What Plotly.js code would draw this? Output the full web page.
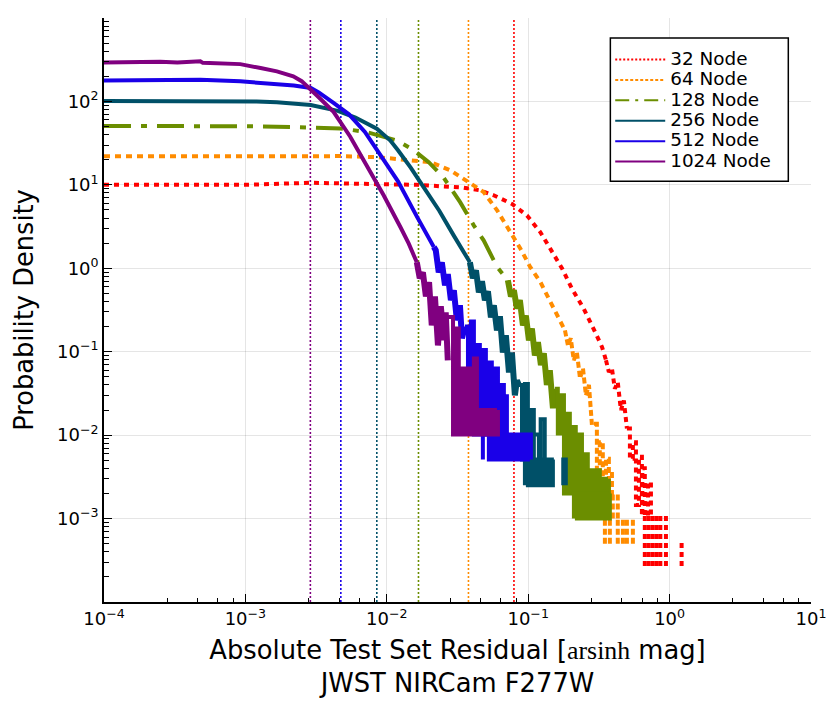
<!DOCTYPE html>
<html>
<head>
<meta charset="utf-8">
<script src="https://cdn.plot.ly/plotly-3.0.1.min.js"></script>
<style>body { margin: 0; background: #fff; }</style>
</head>
<body>
<div id="graph"></div>
<script>
const names = ["32 Node", "64 Node", "128 Node", "256 Node", "512 Node", "1024 Node"];
const colors = ["#ff0000", "#ff8c00", "#6b8e00", "#005068", "#1a00e8", "#800080"];
const curveDash = ["5px,5px", "6px,5px", "27px,10px,6px,10px", "solid", "solid", "solid"];
const tailDash = ["5px,4px", "6px,3px", "solid", "solid", "solid", "solid"];
const midWidth = [4, 4, 6, 6, 6, 6];
const legendDash = ["2px,2px", "3px,2px", "14px,6px,3px,6px", "solid", "solid", "solid"];
const medians = [0.0793, 0.0378, 0.01675, 0.0085, 0.00473, 0.00288];

const xTickVals = [1e-4, 1e-3, 1e-2, 1e-1, 1, 10];
const xTickText = ["10<sup>\u22124</sup>", "10<sup>\u22123</sup>", "10<sup>\u22122</sup>", "10<sup>\u22121</sup>", "10<sup>0</sup>", "10<sup>1</sup>"];
const yTickVals = [1e-3, 1e-2, 1e-1, 1, 10, 100];
const yTickText = ["10<sup>\u22123</sup>", "10<sup>\u22122</sup>", "10<sup>\u22121</sup>", "10<sup>0</sup>", "10<sup>1</sup>", "10<sup>2</sup>"];
const xMinorMant = [2.8, 4.6, 6.4, 8.2];
const yMinorMant = [2, 3, 4, 5, 6, 7, 8, 9];
const xDecades = [1e-4, 1e-3, 1e-2, 1e-1, 1];
const yDecades = [1e-4, 1e-3, 1e-2, 1e-1, 1, 10, 100];

// smooth upper part of every curve
const head32X = [1e-4, 3e-4, 1e-3, 2.9e-3, 4.7e-3, 8.5e-3, 0.0164, 0.0267, 0.034, 0.0456, 0.057, 0.0769, 0.098, 0.122, 0.148, 0.174, 0.204, 0.247, 0.29, 0.333, 0.355];
const head32Y = [10, 10, 10, 10.6, 10.3, 10.2, 10, 9.66, 9.3, 8.6, 7.5, 5.9, 4.3, 2.7, 1.56, 0.99, 0.57, 0.327, 0.188, 0.1135, 0.079];
const head64X = [1e-4, 3e-4, 1e-3, 2.9e-3, 4.7e-3, 8.5e-3, 0.0147, 0.0204, 0.0282, 0.038, 0.0484, 0.0603, 0.0728, 0.0881, 0.1035, 0.122, 0.14, 0.16, 0.182];
const head64Y = [22, 22.1, 22.1, 22.1, 22.1, 21.5, 20, 18.7, 14.9, 10.8, 8.2, 4.94, 2.98, 1.72, 1.03, 0.684, 0.43, 0.27, 0.18];
const head128X = [1e-4, 3e-4, 1e-3, 2.2e-3, 4.7e-3, 7.2e-3, 0.0118, 0.0155, 0.0198, 0.0251, 0.033, 0.0412, 0.0484, 0.0604, 0.0718];
const head128Y = [50.7, 50.7, 50.5, 49.3, 47.5, 43, 34, 26, 18.7, 12.4, 6.2, 3.27, 2.16, 1.03, 0.72];
const head256X = [1e-4, 3e-4, 9e-4, 1.2e-3, 1.67e-3, 2.2e-3, 2.9e-3, 4.5e-3, 6e-3, 8.5e-3, 0.0106, 0.012, 0.0148, 0.0182, 0.0235, 0.0297, 0.0387];
const head256Y = [101, 101, 102, 100, 98, 95, 90.6, 77, 64, 47, 34, 26, 16, 9.4, 4.9, 2.48, 1.18];
const head512X = [1e-4, 2.5e-4, 4.8e-4, 9.2e-4, 1.67e-3, 2.2e-3, 2.9e-3, 3.3e-3, 4.2e-3, 5.4e-3, 7e-3, 9.2e-3, 0.012, 0.0164, 0.0215];
const head512Y = [178, 180, 182, 174, 160, 155, 145, 128, 96, 70, 43, 21, 11, 4.1, 1.8];
const head1024X = [1e-4, 1.5e-4, 2.5e-4, 3.3e-4, 4.3e-4, 4.8e-4, 5e-4, 7e-4, 9.2e-4, 1.28e-3, 1.67e-3, 2.18e-3, 2.5e-3, 3.3e-3, 4.2e-3, 5.5e-3, 7.5e-3, 9.5e-3, 0.0125, 0.0143, 0.0163];
const head1024Y = [292, 295, 298, 292, 296, 303, 290, 288, 280, 251, 229, 200, 175, 112, 75, 38, 15.5, 7.5, 3.1, 1.97, 1.18];

// middle part, the counts start to get noisy
const mid32X = [0.355, 0.372, 0.391, 0.41, 0.43, 0.4525, 0.475, 0.499];
const mid32Y = [0.079, 0.057, 0.063, 0.036, 0.043, 0.02, 0.026, 0.012];
const mid64X = [0.182, 0.191, 0.2, 0.21, 0.221, 0.2325, 0.244, 0.256, 0.269, 0.2825, 0.2917];
const mid64Y = [0.18, 0.119, 0.145, 0.079, 0.098, 0.048, 0.063, 0.03, 0.04, 0.013, 0.0137];
const mid128X = [0.0718, 0.0755, 0.0792, 0.0832, 0.0873, 0.0918, 0.0963, 0.1012, 0.1062, 0.1115, 0.1172, 0.123, 0.129, 0.1355, 0.1422, 0.1496, 0.1545];
const mid128Y = [0.72, 0.46, 0.545, 0.33, 0.414, 0.207, 0.27, 0.137, 0.19, 0.09, 0.13, 0.069, 0.096, 0.04, 0.06, 0.021, 0.036];
const mid256X = [0.0387, 0.0406, 0.0427, 0.0448, 0.0471, 0.0494, 0.0519, 0.0545, 0.0572, 0.0601, 0.0631, 0.0662, 0.0695, 0.0731, 0.0767, 0.0805, 0.0832, 0.0859];
const mid256Y = [1.18, 0.76, 0.945, 0.515, 0.7, 0.414, 0.53, 0.258, 0.36, 0.18, 0.266, 0.098, 0.157, 0.0565, 0.098, 0.03, 0.0454, 0.04];
const mid512X = [0.0215, 0.0222, 0.0233, 0.0245, 0.0258, 0.027, 0.0284, 0.0298, 0.0313, 0.0329, 0.034, 0.0357];
const mid512Y = [1.8, 1.64, 0.895, 1.18, 0.625, 0.85, 0.414, 0.545, 0.238, 0.36, 0.145, 0.2];
const mid1024X = [0.0163, 0.0171, 0.018, 0.0189, 0.0199, 0.0208, 0.0219, 0.023, 0.0241, 0.02535, 0.0261, 0.027];
const mid1024Y = [1.18, 0.76, 0.895, 0.46, 0.68, 0.207, 0.46, 0.119, 0.35, 0.137, 0.297, 0.079];

// noisy tail, single-count bins jump between levels
const tail32X = [0.499, 0.524, 0.55, 0.578, 0.607, 0.637, 0.643, 0.668, 0.703, 0.738, null, 0.668, 0.668, null, 0.712, 0.712, null, 0.76, 0.76, null, 0.81, 0.81, null, 0.86, 0.86, null, 0.942, 0.942, null, 1.216, 1.216];
const tail32Y = [0.012, 0.0052, 0.0082, 0.00145, 0.0055, 0.00108, 0.004, 0.00108, 0.0027, 0.00108, null, 0.00027, 0.00108, null, 0.00027, 0.00108, null, 0.00027, 0.00108, null, 0.00027, 0.00108, null, 0.00027, 0.00108, null, 0.00027, 0.00108, null, 0.00027, 0.00054];
const tail64X = [0.2917, 0.306, 0.321, 0.337, 0.355, 0.372, 0.391, null, 0.3965, 0.3965, null, 0.43, 0.43, null, 0.3487, 0.3487, null, 0.378, 0.378, null, 0.43, 0.43, null, 0.4677, 0.4677, null, 0.499, 0.499, null, 0.55, 0.55];
const tail64Y = [0.0137, 0.0031, 0.0082, 0.002, 0.0052, 0.002, 0.0038, null, 0.001, 0.002, null, 0.001, 0.002, null, 0.0005, 0.001, null, 0.0005, 0.001, null, 0.0005, 0.001, null, 0.0005, 0.001, null, 0.0005, 0.001, null, 0.0005, 0.001];
const tail128X = [0.1545, 0.162, 0.17, 0.179, 0.188, 0.197, 0.207, 0.217, 0.2286, 0.24, 0.252, 0.264, 0.277, 0.2917, 0.306, 0.321, 0.337, 0.355, 0.372, null, 0.2105, 0.2105, 0.221, 0.2325, 0.244, 0.256, 0.269, 0.2825, 0.2965, 0.311, 0.3265, 0.343, 0.3605, 0.378];
const tail128Y = [0.036, 0.0105, 0.03, 0.002, 0.018, 0.002, 0.0125, 0.002, 0.0102, 0.002, 0.0059, 0.002, 0.0038, 0.002, 0.0038, 0.002, 0.003, 0.002, 0.003, null, 0.001, 0.002, 0.001, 0.002, 0.001, 0.002, 0.001, 0.002, 0.001, 0.002, 0.001, 0.002, 0.001, 0.002];
const tail256X = [0.0859, 0.0904, 0.0948, 0.0995, 0.1045, 0.1096, 0.1096, 0.119, 0.1225, 0.1309, 0.1309, null, 0.0948, 0.0948, 0.0995, 0.1045, 0.1096, 0.1153, 0.121, 0.127, 0.1334, 0.14, 0.147, 0.1495, null, 0.177, 0.177, 0.1845, 0.1845];
const tail256Y = [0.04, 0.0051, 0.041, 0.0051, 0.02, 0.0051, 0.0102, 0.0051, 0.0155, 0.0051, 0.0102, null, 0.0025, 0.0051, 0.0025, 0.0051, 0.0025, 0.0051, 0.0025, 0.0051, 0.0025, 0.0051, 0.0025, 0.0051, null, 0.0025, 0.0051, 0.0051, 0.0025];
const tail512X = [0.0357, 0.0375, 0.0393, 0.0413, 0.0434, 0.0455, 0.0478, 0.0502, 0.0527, 0.0553, 0.0582, 0.0611, 0.0641, 0.0673, 0.0707, null, 0.0478, 0.0478, 0.0527, 0.0553, 0.0582, 0.0611, 0.0641, 0.0673, 0.0707, 0.0743, 0.078, 0.0818, 0.0859, 0.0904, 0.0948, 0.0995, 0.1045, 0.1045];
const tail512Y = [0.2, 0.05, 0.23, 0.0102, 0.12, 0.0102, 0.105, 0.0102, 0.074, 0.0102, 0.063, 0.0102, 0.04, 0.0102, 0.031, null, 0.0051, 0.0102, 0.0051, 0.0102, 0.0051, 0.0102, 0.0051, 0.0102, 0.0051, 0.0102, 0.0051, 0.0102, 0.0051, 0.0102, 0.0051, 0.0102, 0.0051, 0.0102];
const tail1024X = [0.027, 0.0294, 0.0308, 0.0323, 0.034, 0.0357, 0.0375, 0.0393, 0.0413, 0.0434, 0.0455, 0.0478, 0.0502, 0.0527, 0.0553, 0.0582, 0.0611];
const tail1024Y = [0.26, 0.0102, 0.19, 0.0102, 0.063, 0.0102, 0.063, 0.0102, 0.083, 0.0102, 0.02, 0.0102, 0.02, 0.0102, 0.02, 0.0102, 0.02];

const heads = [[head32X, head32Y], [head64X, head64Y], [head128X, head128Y], [head256X, head256Y], [head512X, head512Y], [head1024X, head1024Y]];
const mids = [[mid32X, mid32Y], [mid64X, mid64Y], [mid128X, mid128Y], [mid256X, mid256Y], [mid512X, mid512Y], [mid1024X, mid1024Y]];
const tails = [[tail32X, tail32Y], [tail64X, tail64Y], [tail128X, tail128Y], [tail256X, tail256Y], [tail512X, tail512Y], [tail1024X, tail1024Y]];

const font = "DejaVu Sans";
const data = [];

// medians sit under the curves
medians.forEach((m, i) => {
  data.push({
    x: [m, m], y: [1e-4, 1e3], mode: "lines", showlegend: false, hoverinfo: "skip",
    line: { color: colors[i], width: 1.6, dash: "2px,2px" },
  });
});

names.forEach((name, i) => {
  data.push({
    x: heads[i][0], y: heads[i][1], mode: "lines", showlegend: false,
    line: { color: colors[i], width: 4, dash: curveDash[i] },
  });
  data.push({
    x: mids[i][0], y: mids[i][1], mode: "lines", showlegend: false,
    line: { color: colors[i], width: midWidth[i], dash: tailDash[i] },
  });
  data.push({
    x: tails[i][0], y: tails[i][1], mode: "lines", showlegend: false,
    line: { color: colors[i], width: 4, dash: tailDash[i], shape: "hv" },
  });
});

// legend lines are thinner than the curves
names.forEach((name, i) => {
  data.push({
    x: [null], y: [null], mode: "lines",
    name: '<span style="font-size:18.4px">' + name + "</span>",
    line: { color: colors[i], width: 2, dash: legendDash[i] },
  });
});

const layout = {
  width: 830,
  height: 712,
  margin: { l: 103.5, r: 19, t: 18, b: 110 },
  paper_bgcolor: "#fff",
  plot_bgcolor: "#fff",
  font: { family: font, color: "#000", size: 18 },
  xaxis: {
    type: "log",
    range: [-4, 1],
    tickmode: "array",
    tickvals: xTickVals,
    ticktext: xTickText,
    ticks: "inside",
    ticklen: 8,
    tickwidth: 1.1,
    tickcolor: "#000",
    tickfont: { family: font, size: 18, color: "#000" },
    showline: true,
    linecolor: "#000",
    linewidth: 1.7,
    gridcolor: "rgba(0,0,0,0.1)",
    gridwidth: 1.2,
    zeroline: false,
    minor: {
      tickmode: "array",
      tickvals: xDecades.flatMap((d) => xMinorMant.map((m) => m * d)),
      ticks: "inside",
      ticklen: 4,
      tickwidth: 1.1,
      tickcolor: "#000",
      showgrid: false,
    },
    title: {
      text: 'Absolute Test Set Residual [<span style="font-family:Liberation Serif">arsinh</span> mag]<br>JWST NIRCam F277W',
      font: { family: font, size: 25.8, color: "#000" },
      standoff: 12,
    },
  },
  yaxis: {
    type: "log",
    range: [-4, 3],
    tickmode: "array",
    tickvals: yTickVals,
    ticktext: yTickText,
    ticks: "inside",
    ticklen: 8,
    tickwidth: 1.1,
    tickcolor: "#000",
    tickfont: { family: font, size: 18, color: "#000" },
    showline: true,
    linecolor: "#000",
    linewidth: 1.7,
    gridcolor: "rgba(0,0,0,0.1)",
    gridwidth: 1.2,
    zeroline: false,
    minor: {
      tickmode: "array",
      tickvals: yDecades.flatMap((d) => yMinorMant.map((m) => m * d)),
      ticks: "inside",
      ticklen: 5,
      tickwidth: 1.1,
      tickcolor: "#000",
      showgrid: false,
    },
    title: {
      text: "Probability Density",
      font: { family: font, size: 25.7, color: "#000" },
      standoff: 16,
    },
  },
  // box behind the legend, the rows are tighter than a plotly legend frame
  shapes: [{
    type: "rect", xref: "paper", yref: "paper", layer: "above",
    x0: 0.7162, x1: 0.9679, y0: 0.7204, y1: 0.9656,
    fillcolor: "#fff", line: { color: "#000", width: 1.5 },
  }],
  legend: {
    x: 0.716,
    y: 0.955,
    xanchor: "left",
    yanchor: "top",
    bgcolor: "rgba(0,0,0,0)",
    borderwidth: 0,
    itemwidth: 50,
    font: { family: font, size: 13.4, color: "#000" },
  },
  showlegend: true,
};

Plotly.newPlot("graph", data, layout, { displayModeBar: false, responsive: false });
</script>
</body>
</html>
